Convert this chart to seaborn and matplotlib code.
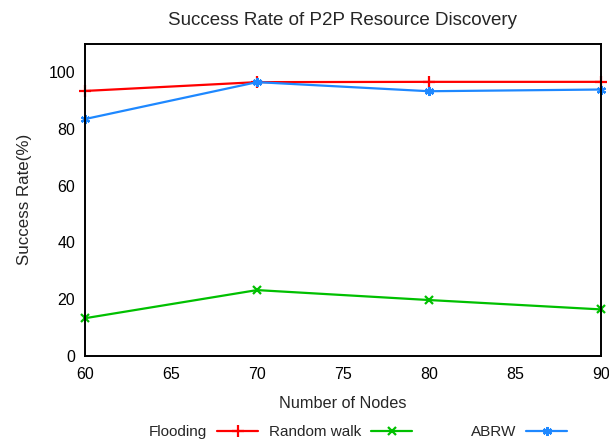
import matplotlib
matplotlib.use("Agg")
import matplotlib.pyplot as plt
import seaborn as sns
import pandas as pd

nodes = [60, 70, 80, 90]
flooding = [93.3, 96.4, 96.5, 96.5]
random_walk = [13.3, 23.2, 19.7, 16.4]
abrw = [83.4, 96.4, 93.2, 93.8]
series_names = ["Flooding", "Random walk", "ABRW"]
colors = ["#ff0000", "#00c000", "#1e88ff"]
markers = ["+", "x", (6, 2, 0)]
marker_sizes = [8, 6, 6.5]

df = pd.DataFrame({
    "Nodes": nodes * 3,
    "Rate": flooding + random_walk + abrw,
    "Series": [s for s in series_names for _ in nodes],
})

sns.set_style("white")
plt.rcParams['font.family'] = ['Liberation Sans', 'DejaVu Sans']

W, H = 609, 443
fig = plt.figure(figsize=(W / 100, H / 100), dpi=100)
ax = fig.add_axes([85 / W, (H - 356) / H, 516 / W, 312.5 / H])

for name, c, m, ms in zip(series_names, colors, markers, marker_sizes):
    sub = df[df.Series == name]
    sns.lineplot(data=sub, x="Nodes", y="Rate", ax=ax, color=c, marker=m,
                 markersize=ms, markeredgewidth=1.6, markeredgecolor=c,
                 linewidth=1.6, label=name, clip_on=False)

ax.set_xlim(60, 90)
ax.set_ylim(0, 110)
ax.set_xticks([60, 65, 70, 75, 80, 85, 90])
ax.set_yticks([0, 20, 40, 60, 80, 100])
ax.tick_params(axis='both', direction='in', length=6, width=1, labelsize=11.5,
               colors='black', pad=7)
ax.tick_params(axis='x', pad=8)
for sp in ax.spines.values():
    sp.set_color('black')
    sp.set_linewidth(1.4)
ax.set_xlabel("Number of Nodes", fontsize=11.7, labelpad=10)
ax.set_ylabel("Success Rate(%)", fontsize=12.2, labelpad=12)
ax.set_title("Success Rate of P2P Resource Discovery", fontsize=13.5, pad=13)

handles, labels = ax.get_legend_handles_labels()
ax.get_legend().remove()
right_ends = [258, 412, 567]
for h, lab, xr in zip(handles, labels, right_ends):
    fig.legend(handles=[h], labels=[lab], loc='center right',
               bbox_to_anchor=(xr / W, (H - 432) / H),
               bbox_transform=fig.transFigure,
               markerfirst=False, frameon=False, fontsize=11,
               handlelength=2.68, handletextpad=0.65, borderpad=0,
               borderaxespad=0)

fig.savefig("out.png", dpi=100)
